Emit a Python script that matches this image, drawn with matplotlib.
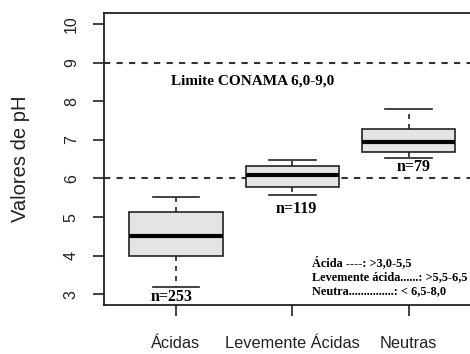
import matplotlib
matplotlib.use("Agg")
import matplotlib.pyplot as plt

# dados (pH)
categorias = ["Ácidas", "Levemente Ácidas", "Neutras"]
whis_baixo = [3.2, 5.57, 6.53]
q1 = [4.0, 5.78, 6.68]
mediana = [4.52, 6.1, 6.95]
q3 = [5.12, 6.32, 7.28]
whis_alto = [5.52, 6.47, 7.8]
n_amostras = [253, 119, 79]
n_pos_x = [0.96, 2.03, 3.04]
n_pos_y = [2.93, 5.2, 6.29]
limites = [6.0, 9.0]
legenda = ["Ácida ----: >3,0-5,5",
           "Levemente ácida......: >5,5-6,5",
           "Neutra...............: < 6,5-8,0"]

fig = plt.figure(figsize=(4.7, 3.54), dpi=100)
ax = fig.add_axes([0.221, 0.138, 0.802, 0.825])

stats = []
for i in range(len(categorias)):
    stats.append(dict(med=mediana[i], q1=q1[i], q3=q3[i],
                      whislo=whis_baixo[i], whishi=whis_alto[i], fliers=[]))

ax.bxp(stats, positions=[1, 2, 3], widths=0.8, patch_artist=True,
       boxprops=dict(facecolor="#e4e4e4", edgecolor="#222222", linewidth=1.2),
       medianprops=dict(color="black", linewidth=3),
       whiskerprops=dict(color="#222222", linewidth=1.2, linestyle=(0, (3, 3))),
       capprops=dict(color="#222222", linewidth=1.2),
       capwidths=0.4)

for y in limites:
    ax.axhline(y, color="#333333", linewidth=1.5, linestyle=(0, (3, 3)), zorder=0.5)

serif = "Liberation Serif"
sans = "Liberation Sans"

for i, n in enumerate(n_amostras):
    ax.text(n_pos_x[i], n_pos_y[i], f"n={n}", ha="center", va="center",
            fontfamily=serif, fontweight="bold", fontsize=11.5)

ax.text(0.96, 8.52, "Limite CONAMA 6,0-9,0", ha="left", va="center",
        fontfamily=serif, fontweight="bold", fontsize=11)

for k, linha in enumerate(legenda):
    ax.text(2.17, 3.81 - k * 0.37, linha, ha="left", va="center",
            fontfamily=serif, fontweight="bold", fontsize=8.8)

ax.set_xlim(0.38, 3.62)
ax.set_ylim(2.72, 10.28)
ax.set_xticks([1, 2, 3])
ax.set_xticklabels(categorias, fontfamily=sans, fontsize=11.8, color="#222222")
ax.set_yticks(range(3, 11))
ax.set_yticklabels([str(v) for v in range(3, 11)], fontfamily=sans,
                   fontsize=11.5, color="#222222", rotation=90, va="center")
ax.tick_params(axis="x", length=8, width=1.2, pad=14, color="#222222")
ax.tick_params(axis="y", length=8, width=1.2, pad=10, color="#222222")
ax.set_ylabel("Valores de pH", fontfamily=sans, fontsize=14.5, color="#222222")
ax.yaxis.set_label_coords(-0.195, 0.5)

for s in ax.spines.values():
    s.set_linewidth(1.3)
    s.set_color("#222222")

fig.savefig("out.png", dpi=100, facecolor="white")
